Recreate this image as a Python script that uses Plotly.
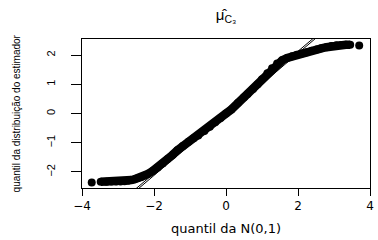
import plotly.graph_objects as go

# Theoretical N(0,1) quantiles and sample quantiles
q_theor = [-3.73, -3.48, -3.32, -3.18, -3.05, -2.93, -2.82, -2.72, -2.63, -2.54,
           -2.45, -2.36, -2.27, -2.17, -2.05, -1.90, -1.76, -1.62, -1.48, -1.35,
           -1.20, -1.04, -0.90, -0.77, -0.60, -0.45, -0.30, -0.15, 0.00, 0.15,
           0.33, 0.50, 0.60, 0.75, 0.88, 1.00, 1.15, 1.28, 1.42, 1.56,
           1.70, 1.84, 1.97, 2.10, 2.25, 2.38, 2.52, 2.65, 2.79, 2.93,
           3.07, 3.20, 3.33, 3.45, 3.70]
q_sample = [-2.36, -2.34, -2.34, -2.33, -2.33, -2.33, -2.32, -2.30, -2.28, -2.25,
            -2.22, -2.18, -2.13, -2.07, -1.98, -1.85, -1.71, -1.56, -1.41, -1.26,
            -1.11, -0.97, -0.85, -0.75, -0.60, -0.45, -0.30, -0.15, 0.00, 0.14,
            0.36, 0.56, 0.67, 0.84, 1.00, 1.17, 1.38, 1.55, 1.71, 1.82,
            1.90, 1.96, 2.01, 2.05, 2.10, 2.15, 2.19, 2.23, 2.27, 2.31,
            2.34, 2.345, 2.35, 2.35, 2.33]

# Reference lines (slope, intercept)
ref_slopes = [1.045, 1.045]
ref_intercepts = [-0.03, 0.04]

x_ticks = [-4, -2, 0, 2, 4]
x_tick_text = ["\u22124", "\u22122", "0", "2", "4"]
y_ticks = [-2, -1, 0, 1, 2]
y_tick_text = ["\u22122", "\u22121", "0", "1", "2"]

title_text = "\u03bc\u0302<sub>C\u2083</sub>"
x_title = "quantil da N(0,1)"
y_title = "quantil da distribuição do estimador"

x_range = [-4.0, 4.0]
y_range = [-2.55, 2.55]

fig = go.Figure()

for s, b in zip(ref_slopes, ref_intercepts):
    fig.add_trace(go.Scatter(x=x_range, y=[s * x_range[0] + b, s * x_range[1] + b],
                             mode="lines", line=dict(color="black", width=1),
                             hoverinfo="skip", showlegend=False))

# thick band of overlapping points
fig.add_trace(go.Scatter(x=q_theor[1:-1], y=q_sample[1:-1], mode="lines",
                         line=dict(color="black", width=8.5),
                         hoverinfo="skip", showlegend=False))
fig.add_trace(go.Scatter(x=q_theor, y=q_sample, mode="markers",
                         marker=dict(color="black", size=8),
                         showlegend=False))

fig.update_layout(
    width=378, height=240,
    margin=dict(l=82, r=4, t=39, b=52),
    paper_bgcolor="white", plot_bgcolor="white",
    font=dict(family="Liberation Sans, Arial, sans-serif", color="black"),
    title=dict(text=title_text, x=0.5, xref="paper", xanchor="center",
               y=1 - 15 / 240, yref="container", yanchor="middle",
               font=dict(size=15, family="Liberation Sans, Arial, sans-serif")),
    xaxis=dict(range=x_range, tickvals=x_ticks, ticktext=x_tick_text,
               showgrid=False, zeroline=False, showline=True, mirror=True,
               linecolor="black", linewidth=1, ticks="outside", ticklen=7,
               tickcolor="black", tickwidth=1,
               tickfont=dict(family="DejaVu Sans", size=12)),
    yaxis=dict(range=y_range, tickvals=y_ticks, ticktext=y_tick_text,
               showgrid=False, zeroline=False, showline=True, mirror=True,
               linecolor="black", linewidth=1, ticks="outside", ticklen=10,
               tickcolor="black", tickwidth=1, tickangle=-90,
               ticklabelstandoff=12,
               tickfont=dict(family="Liberation Sans", size=11)),
    annotations=[
        dict(text=x_title, xref="paper", yref="paper", x=0.5, y=-0.275,
             xanchor="center", yanchor="middle", showarrow=False,
             font=dict(family="DejaVu Sans", size=13)),
        dict(text=y_title, xref="paper", yref="paper", x=-0.226, y=0.5,
             xanchor="center", yanchor="middle", textangle=-90, showarrow=False,
             font=dict(family="Liberation Sans", size=10)),
    ],
)

fig.write_html("out.html", config={"displayModeBar": False},
               post_script="document.body.style.margin='0';")
